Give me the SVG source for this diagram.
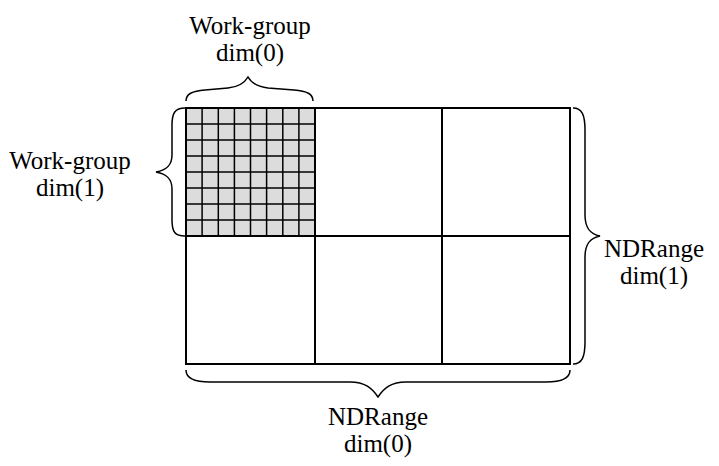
<svg xmlns="http://www.w3.org/2000/svg" width="719" height="466" viewBox="0 0 719 466">
<style>
.lbl{font-family:"Liberation Serif","Times New Roman",serif;font-size:25px;fill:#000;text-anchor:middle}
.main{fill:none;stroke:#000;stroke-width:2}
.small{stroke:#000;stroke-width:1.5}
.brace{fill:none;stroke:#000;stroke-width:1.5}
</style>
<rect x="0" y="0" width="719" height="466" fill="#fff"/>
<g id="workgroup-cells">
<rect x="186" y="108" width="129" height="128" fill="#dcdcdc" stroke="none"/>
<g class="small">
<line x1="202.1" y1="108" x2="202.1" y2="236"/>
<line x1="218.3" y1="108" x2="218.3" y2="236"/>
<line x1="234.4" y1="108" x2="234.4" y2="236"/>
<line x1="250.5" y1="108" x2="250.5" y2="236"/>
<line x1="266.6" y1="108" x2="266.6" y2="236"/>
<line x1="282.8" y1="108" x2="282.8" y2="236"/>
<line x1="298.9" y1="108" x2="298.9" y2="236"/>
<line x1="186" y1="124" x2="315" y2="124"/>
<line x1="186" y1="140" x2="315" y2="140"/>
<line x1="186" y1="156" x2="315" y2="156"/>
<line x1="186" y1="172" x2="315" y2="172"/>
<line x1="186" y1="188" x2="315" y2="188"/>
<line x1="186" y1="204" x2="315" y2="204"/>
<line x1="186" y1="220" x2="315" y2="220"/>
</g>
</g>
<g id="ndrange-grid" class="main">
<rect x="186" y="108" width="384" height="256"/>
<line x1="315" y1="108" x2="315" y2="364"/>
<line x1="442" y1="108" x2="442" y2="364"/>
<line x1="186" y1="236" x2="570" y2="236"/>
</g>
<g id="connectors">
<path class="brace" d="M186,101 C186,94 192,91 205,90 L228,88 C238,87 244,84 248,77 C252,84 258,87 268,88 L294,90 C307,91 313,94 313,101"/>
<path class="brace" d="M185,108 C175,108 172,113 172,125 L172,155 C172,165 167,170 156,172 C167,174 172,179 172,189 L172,220 C172,232 175,236 185,236"/>
<path class="brace" d="M573,108 C582,108 585,115 585,130 L585,215 C585,228 590,234 600,236 C590,238 585,244 585,257 L585,342 C585,357 582,364 573,364"/>
<path class="brace" d="M186,370 C186,378 195,382 210,382 L350,382 C365,382 372,388 378,397 C384,388 391,382 406,382 L546,382 C561,382 570,378 570,370"/>
</g>
<g id="label-wg0"><text class="lbl" x="250" y="34">Work-group</text><text class="lbl" x="250" y="61">dim(0)</text></g>
<g id="label-wg1"><text class="lbl" x="70" y="169">Work-group</text><text class="lbl" x="70" y="196">dim(1)</text></g>
<g id="label-nd1"><text class="lbl" x="654" y="257">NDRange</text><text class="lbl" x="654" y="284">dim(1)</text></g>
<g id="label-nd0"><text class="lbl" x="378" y="425">NDRange</text><text class="lbl" x="378" y="452">dim(0)</text></g>
</svg>
